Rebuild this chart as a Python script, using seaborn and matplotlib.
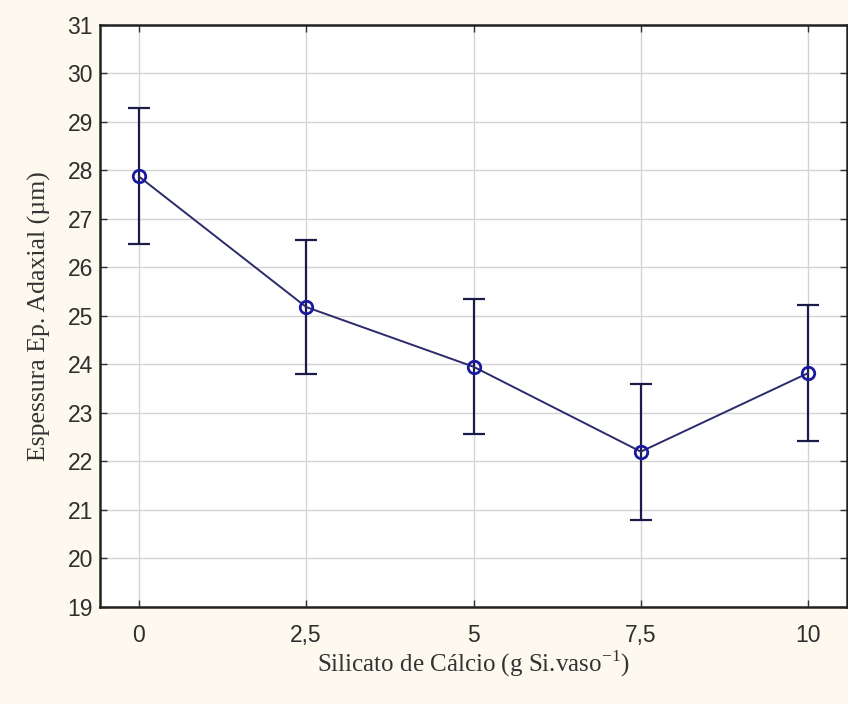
import matplotlib
matplotlib.use("Agg")
import matplotlib.pyplot as plt
import seaborn as sns
import pandas as pd

doses = [0, 2.5, 5, 7.5, 10]
means = [27.87, 25.18, 23.95, 22.20, 23.82]
errors = [1.40, 1.39, 1.39, 1.40, 1.41]
xtick_labels = ["0", "2,5", "5", "7,5", "10"]
yticks = list(range(19, 32))

df = pd.DataFrame({"dose": doses, "mean": means, "err": errors})

sns.set_theme(style="whitegrid")
plt.rcParams["font.family"] = ["Liberation Sans Narrow", "Liberation Sans", "DejaVu Sans"]

fig = plt.figure(figsize=(8.48, 7.04), dpi=100, facecolor="#fdf9ee")
ax = fig.add_axes([100 / 848, 1 - 607 / 704, 747 / 848, (607 - 24.5) / 704])
ax.set_facecolor("white")

line_col = "#2b2b6b"
ax.errorbar(df["dose"], df["mean"], yerr=df["err"], fmt="none",
            ecolor="#1c1c4a", elinewidth=1.6, capsize=8, capthick=1.6, zorder=2)
sns.lineplot(data=df, x="dose", y="mean", ax=ax, color=line_col, linewidth=1.4,
             marker="o", markersize=9, markerfacecolor="none",
             markeredgecolor="#1a1aa0", markeredgewidth=2.0, zorder=3)

ax.set_xlim(-0.58, 10.58)
ax.set_ylim(19, 31)
ax.set_xticks(doses)
ax.set_xticklabels(xtick_labels)
ax.set_yticks(yticks)
ax.tick_params(axis="both", which="both", direction="in", length=5, width=1,
               colors="#333333", labelcolor="#2e2e2e", labelsize=16.5,
               top=True, right=True, bottom=True, left=True, pad=5)
ax.tick_params(axis="x", pad=12)

ax.grid(True, color="#d4d4d4", linewidth=1.0)
for side in ["left", "bottom", "top", "right"]:
    ax.spines[side].set_visible(True)
    ax.spines[side].set_color("#222222")
    ax.spines[side].set_linewidth(1.8)

serif = ["Liberation Serif", "DejaVu Serif"]
ax.set_xlabel("Silicato de Cálcio (g Si.vaso$^{\\mathregular{-1}}$)", family=serif,
              fontsize=18, color="#333333", labelpad=1)
ax.set_ylabel("Espessura Ep. Adaxial (µm)", family=serif, fontsize=18.5,
              color="#333333", labelpad=12)

fig.savefig("out.png", dpi=100, facecolor=fig.get_facecolor())
